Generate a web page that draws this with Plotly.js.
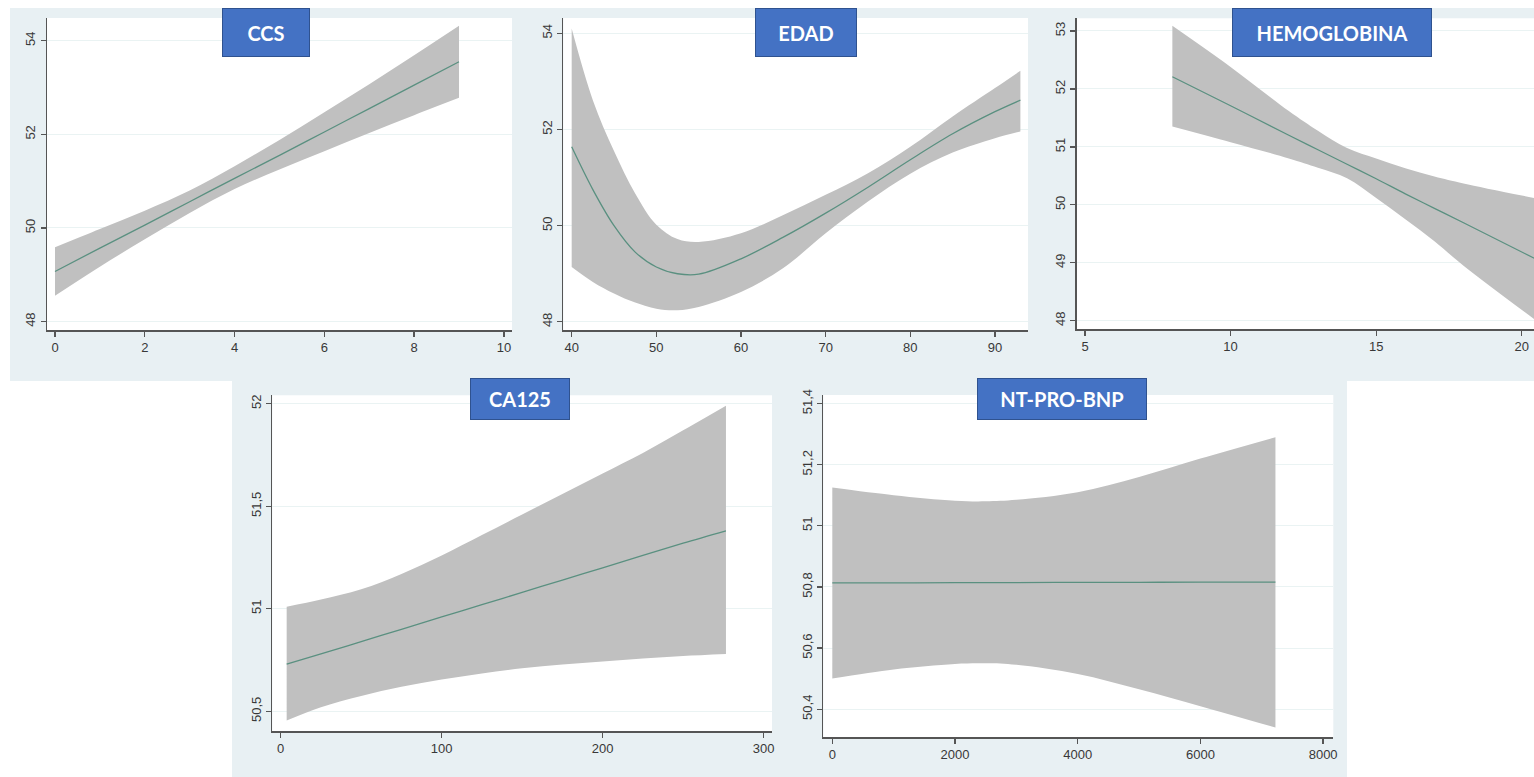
<!DOCTYPE html>
<html>
<head>
<meta charset="utf-8">
<script src="https://cdn.plot.ly/plotly-3.0.1.min.js"></script>
<style>html,body{margin:0;padding:0;background:#fff;}#chart{width:1534px;height:777px;}</style>
</head>
<body>
<div id="chart"></div>
<script>
// ---------- DATA ----------
const panelTitles = ["CCS", "EDAD", "HEMOGLOBINA", "CA125", "NT-PRO-BNP"];

const ccsX     = [0, 1, 2, 3, 4, 5, 6, 7, 8, 9];
const ccsFit   = [49.07, 49.57, 50.06, 50.56, 51.06, 51.55, 52.05, 52.55, 53.05, 53.55];
const ccsUpper = [49.59, 49.98, 50.37, 50.80, 51.32, 51.88, 52.47, 53.07, 53.69, 54.32];
const ccsLower = [48.55, 49.17, 49.76, 50.32, 50.83, 51.25, 51.64, 52.03, 52.41, 52.78];

const edadX     = [40, 42.5, 45, 47.5, 50, 52.5, 55, 60, 65, 70, 75, 80, 85, 90, 93];
const edadFit   = [51.64, 50.75, 50.00, 49.45, 49.14, 49.00, 48.99, 49.31, 49.76, 50.26, 50.80, 51.37, 51.91, 52.37, 52.61];
const edadUpper = [54.10, 52.61, 51.55, 50.67, 50.02, 49.72, 49.66, 49.84, 50.22, 50.64, 51.09, 51.64, 52.27, 52.86, 53.22];
const edadLower = [49.14, 48.83, 48.59, 48.40, 48.27, 48.24, 48.31, 48.62, 49.12, 49.84, 50.50, 51.08, 51.52, 51.82, 51.96];

const hemoX     = [8, 10, 12, 13, 14, 15, 16, 17, 18, 20.5];
const hemoFit   = [52.21, 51.71, 51.20, 50.95, 50.70, 50.45, 50.19, 49.94, 49.69, 49.06];
const hemoUpper = [53.09, 52.38, 51.62, 51.28, 50.98, 50.80, 50.63, 50.49, 50.37, 50.11];
const hemoLower = [51.35, 51.08, 50.80, 50.64, 50.46, 50.12, 49.75, 49.37, 48.95, 48.00];

const caX     = [3.7, 25, 50, 75, 100, 125, 150, 175, 200, 225, 250, 276.6];
const caFit   = [50.73, 50.78, 50.84, 50.90, 50.96, 51.02, 51.08, 51.14, 51.20, 51.26, 51.32, 51.38];
const caUpper = [51.01, 51.045, 51.095, 51.17, 51.26, 51.36, 51.46, 51.56, 51.66, 51.76, 51.87, 51.99];
const caLower = [50.455, 50.52, 50.575, 50.62, 50.655, 50.685, 50.71, 50.728, 50.743, 50.757, 50.77, 50.78];

const ntX     = [0, 1000, 2000, 2500, 3000, 4000, 5000, 6000, 7223];
const ntFit   = [50.813, 50.813, 50.814, 50.814, 50.814, 50.815, 50.815, 50.816, 50.816];
const ntUpper = [51.125, 51.10, 51.082, 51.08, 51.085, 51.11, 51.16, 51.22, 51.29];
const ntLower = [50.50, 50.53, 50.548, 50.55, 50.545, 50.515, 50.465, 50.41, 50.34];

// tick values
const ccsXTicks  = [0, 2, 4, 6, 8, 10],        ccsYTicks  = [48, 50, 52, 54];
const edadXTicks = [40, 50, 60, 70, 80, 90],   edadYTicks = [48, 50, 52, 54];
const hemoXTicks = [5, 10, 15, 20],            hemoYTicks = [48, 49, 50, 51, 52, 53];
const caXTicks   = [0, 100, 200, 300],         caYTicks   = [50.5, 51, 51.5, 52];
const ntXTicks   = [0, 2000, 4000, 6000, 8000], ntYTicks  = [50.4, 50.6, 50.8, 51, 51.2, 51.4];

// ---------- LAYOUT ----------
const W = 1534, H = 777;
const BAND = '#e8f0f3';
const FILL = '#c0c0c0';
const LINE = '#5a9080';
const AX = '#555555';

const series = [
  {x: ccsX,  fit: ccsFit,  up: ccsUpper,  lo: ccsLower,  xt: ccsXTicks,  yt: ccsYTicks},
  {x: edadX, fit: edadFit, up: edadUpper, lo: edadLower, xt: edadXTicks, yt: edadYTicks},
  {x: hemoX, fit: hemoFit, up: hemoUpper, lo: hemoLower, xt: hemoXTicks, yt: hemoYTicks},
  {x: caX,   fit: caFit,   up: caUpper,   lo: caLower,   xt: caXTicks,   yt: caYTicks},
  {x: ntX,   fit: ntFit,   up: ntUpper,   lo: ntLower,   xt: ntXTicks,   yt: ntYTicks}
];
// pixel boxes of plot areas [left, right, top, bottom] and axis ranges
const boxes = [
  {px: [47, 512, 18, 330],       xr: [-0.178, 10.18],  yr: [47.82, 54.485]},
  {px: [563.3, 1028, 18, 330],   xr: [39.01, 93.9],    yr: [47.83, 54.318]},
  {px: [1076.7, 1534, 18.3, 329.3], xr: [4.715, 20.42], yr: [47.852, 53.219]},
  {px: [272.3, 772, 395.3, 731], xr: [-5.22, 305.2],   yr: [50.404, 52.041]},
  {px: [823.3, 1333.3, 395, 737], xr: [-146.7, 8166],  yr: [50.309, 51.428]}
];
const titleBoxes = [
  {cx: 266, cy: 32.5, w: 88, h: 49},
  {cx: 806, cy: 32.5, w: 102, h: 49},
  {cx: 1332, cy: 32.5, w: 200, h: 49},
  {cx: 520, cy: 399, w: 100, h: 42},
  {cx: 1062, cy: 399, w: 170, h: 42}
];

const traces = [];
const layout = {
  width: W, height: H,
  margin: {l: 0, r: 0, t: 0, b: 0, pad: 0},
  paper_bgcolor: '#ffffff',
  plot_bgcolor: 'rgba(0,0,0,0)',
  showlegend: false,
  separators: ',.',
  font: {family: 'Liberation Sans, Arial, sans-serif', size: 13, color: '#383838'},
  shapes: [
    {type: 'rect', xref: 'paper', yref: 'paper', layer: 'below',
     x0: 10 / W, x1: 1, y0: 1 - 381 / H, y1: 1 - 8 / H, fillcolor: BAND, line: {width: 0}},
    {type: 'rect', xref: 'paper', yref: 'paper', layer: 'below',
     x0: 232 / W, x1: 1347 / W, y0: 0, y1: 1 - 381 / H, fillcolor: BAND, line: {width: 0}}
  ],
  annotations: []
};

series.forEach((s, i) => {
  const n = i + 1;
  const xa = 'x' + (n === 1 ? '' : n), ya = 'y' + (n === 1 ? '' : n);
  const b = boxes[i];
  traces.push({x: s.x, y: s.up, xaxis: xa, yaxis: ya, type: 'scatter', mode: 'lines',
               line: {width: 0, color: FILL, shape: 'spline', smoothing: 1}, hoverinfo: 'skip'});
  traces.push({x: s.x, y: s.lo, xaxis: xa, yaxis: ya, type: 'scatter', mode: 'lines',
               fill: 'tonexty', fillcolor: FILL,
               line: {width: 0, color: FILL, shape: 'spline', smoothing: 1}, hoverinfo: 'skip'});
  traces.push({x: s.x, y: s.fit, xaxis: xa, yaxis: ya, type: 'scatter', mode: 'lines',
               line: {width: 1.3, color: LINE, shape: 'spline', smoothing: 1}});
  const common = {showline: true, linecolor: AX, linewidth: 1.5, ticks: 'outside', ticklen: 5,
                  tickwidth: 1.3, tickcolor: AX, zeroline: false, fixedrange: true,
                  tickfont: {family: 'Liberation Sans, Arial, sans-serif', size: 13, color: '#383838'}};
  layout['xaxis' + (n === 1 ? '' : n)] = Object.assign({}, common, {
    domain: [b.px[0] / W, b.px[1] / W], range: b.xr, anchor: ya,
    tickmode: 'array', tickvals: s.xt, showgrid: false
  });
  layout['yaxis' + (n === 1 ? '' : n)] = Object.assign({}, common, {
    domain: [1 - b.px[3] / H, 1 - b.px[2] / H], range: b.yr, anchor: xa,
    tickmode: 'array', tickvals: s.yt, tickangle: -90,
    showgrid: true, gridcolor: '#eaf3f3', gridwidth: 1
  });
  layout.shapes.push({type: 'rect', xref: 'paper', yref: 'paper', layer: 'below',
    x0: b.px[0] / W, x1: b.px[1] / W, y0: 1 - b.px[3] / H, y1: 1 - b.px[2] / H,
    fillcolor: '#ffffff', line: {width: 0}});
  const t = titleBoxes[i];
  layout.annotations.push({
    text: '<b>' + panelTitles[i] + '</b>', xref: 'paper', yref: 'paper',
    x: t.cx / W, y: 1 - t.cy / H, xanchor: 'center', yanchor: 'middle', showarrow: false,
    width: t.w - 2, height: t.h - 2, bgcolor: '#4472c4', bordercolor: '#2f528f',
    borderwidth: 1, borderpad: 0, align: 'center', valign: 'middle',
    font: {family: 'Lato, Open Sans, sans-serif', size: 20, color: '#ffffff'}
  });
});

Plotly.newPlot('chart', traces, layout, {staticPlot: true, displayModeBar: false});
</script>
</body>
</html>
